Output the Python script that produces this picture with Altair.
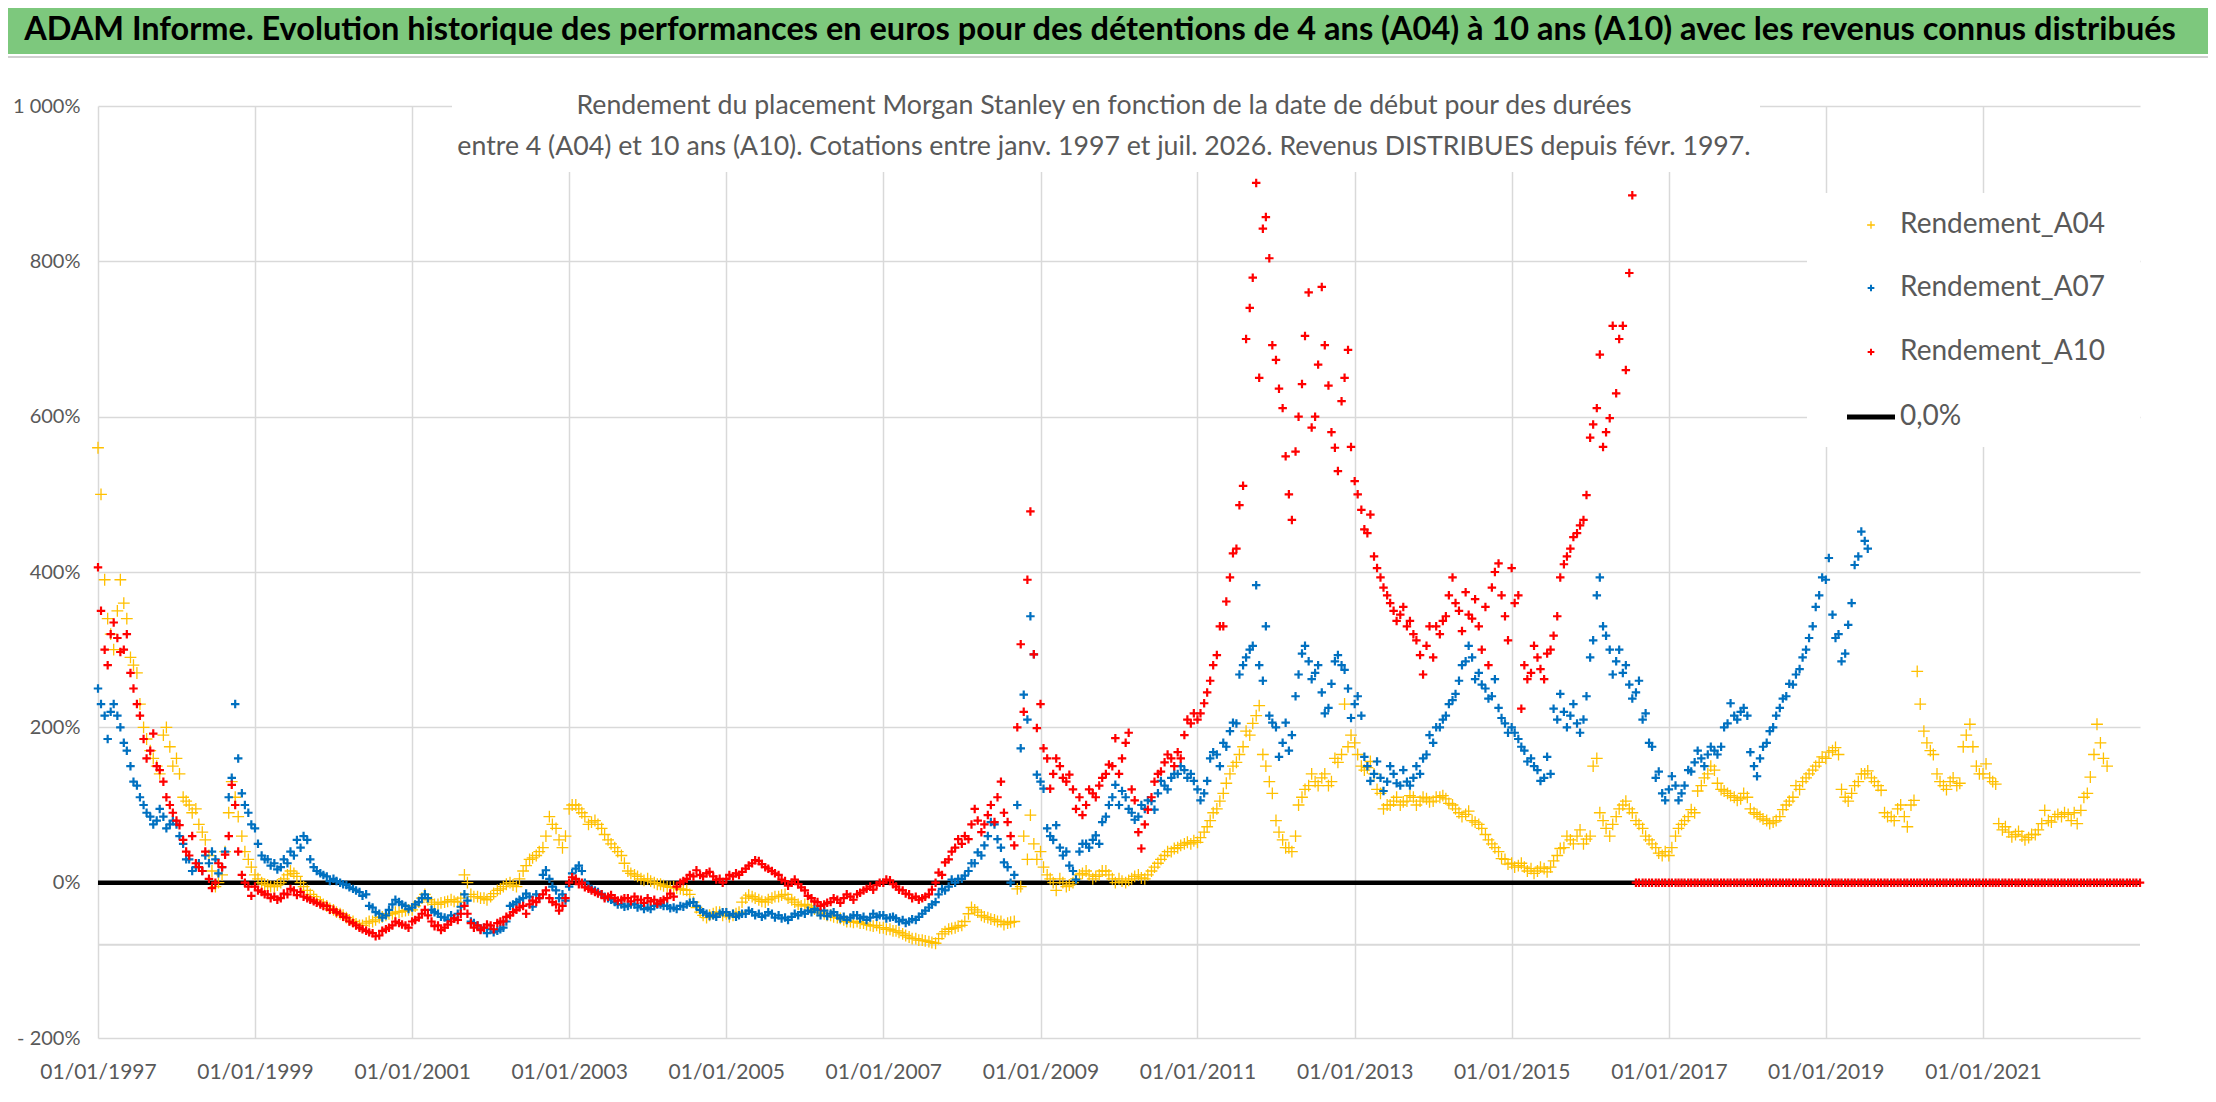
import pandas as pd
import altair as alt

FONT = "Lato"
GREY_TEXT = "#595959"
GRID = "#D9D9D9"
YELLOW = "#FFC000"
BLUE = "#0070C0"
RED = "#FF0000"

TITLE = ("ADAM Informe. Evolution historique des performances en euros pour des "
         "détentions de 4 ans (A04) à 10 ans (A10) avec les revenus connus distribués")
SUBTITLE = [
    "Rendement du placement Morgan Stanley en fonction de la date de début pour des durées",
    "entre 4 (A04) et 10 ans (A10). Cotations entre janv. 1997 et juil. 2026. Revenus DISTRIBUES depuis févr. 1997.",
]
LEGEND_LABELS = ["Rendement_A04", "Rendement_A07", "Rendement_A10", "0,0%"]

# readings in %, one row per year starting January 1997:
# *_FIRST = value on the 1st of each month, *_MID = value on the 15th
START = "1997-01-01"

A04_FIRST = [
    560, 390, 320, 350, 360, 290, 270, 200, 170, 150, 190, 175,   # 1997
    160, 110, 100, 95, 65, 35, -5, 10, 90, 110, 60, 30,           # 1998
    10, 0, -3, -5, 0, 10, 12, 0, -10, -18, -25, -30,              # 1999
    -35, -40, -45, -50, -55, -52, -50, -45, -42, -40, -38, -36,   # 2000
    -35, -25, -15, -25, -28, -25, -22, -25, 10, -15, -18, -20,    # 2001
    -18, -10, -5, 0, -5, 15, 30, 35, 45, 85, 70, 45,              # 2002
    95, 100, 90, 75, 80, 70, 55, 45, 35, 15, 10, 5,               # 2003
    5, 0, -2, -5, -5, -8, -10, -25, -38, -45, -40, -38,           # 2004
    -40, -42, -38, -20, -18, -22, -25, -20, -18, -15, -22, -28,   # 2005
    -28, -32, -36, -40, -42, -45, -48, -50, -50, -52, -55, -55,   # 2006
    -58, -60, -62, -66, -70, -72, -74, -76, -78, -66, -60, -58,   # 2007
    -55, -40, -35, -42, -45, -48, -50, -52, -50, -5, 30, 50,      # 2008
    40, 10, 0, 5, -5, 0, 10, 15, 5, 10, 15, 5,                    # 2009
    5, 0, 5, 10, 5, 15, 25, 35, 40, 45, 50, 50,                   # 2010
    52, 65, 80, 95, 115, 140, 155, 175, 190, 215, 165, 130,       # 2011
    80, 55, 45, 60, 110, 125, 130, 135, 125, 160, 165, 175,       # 2012
    180, 150, 148, 140, 115, 100, 105, 100, 105, 110, 105, 108,   # 2013
    105, 110, 108, 100, 90, 88, 80, 75, 62, 50, 40, 30,           # 2014
    25, 22, 20, 18, 15, 18, 20, 35, 45, 55, 60, 50,               # 2015
    60, 160, 80, 60, 85, 100, 95, 80, 70, 55, 45, 35,             # 2016
    35, 60, 75, 85, 90, 125, 140, 145, 120, 115, 110, 108,        # 2017
    110, 90, 85, 80, 78, 85, 100, 110, 120, 135, 145, 155,        # 2018
    160, 170, 165, 110, 115, 130, 140, 135, 125, 90, 85, 95,      # 2019
    85, 100, 272, 195, 170, 140, 125, 130, 125, 175, 204, 150,    # 2020
    140, 135, 127, 68, 65, 62, 60, 58, 62, 76, 80, 85,            # 2021
    85, 88, 90, 93, 115, 165, 180, 150,                           # 2022
]
A04_MID = [
    500, 340, 300, 390, 340, 280, 230, 185, 160, 140, 200, 150,   # 1997
    140, 105, 90, 75, 55, 15, 0, 40, 130, 85, 40, 20,             # 1998
    5, -2, -5, -3, 5, 15, 8, -5, -15, -22, -28, -33,              # 1999
    -38, -42, -48, -53, -55, -50, -48, -44, -40, -38, -37, -35,   # 2000
    -30, -20, -22, -28, -26, -24, -24, -20, 0, -18, -20, -22,     # 2001
    -14, -8, -2, -3, 5, 22, 32, 40, 60, 75, 55, 60,               # 2002
    100, 95, 85, 78, 75, 62, 50, 40, 25, 12, 8, 3,                # 2003
    2, -2, -4, -6, -7, -9, -15, -32, -42, -42, -38, -42,          # 2004
    -44, -40, -25, -16, -20, -24, -22, -18, -16, -20, -25, -30,   # 2005
    -30, -34, -38, -42, -44, -46, -50, -51, -52, -54, -56, -58,   # 2006
    -60, -62, -64, -68, -72, -74, -75, -77, -72, -63, -59, -56,   # 2007
    -50, -32, -38, -44, -47, -50, -54, -51, -8, 60, 87, 30,       # 2008
    20, 5, -10, 0, -3, 5, 12, 10, 8, 15, 10, 0,                   # 2009
    2, 3, 8, 6, 10, 20, 30, 40, 44, 48, 52, 54,                   # 2010
    58, 72, 90, 105, 128, 150, 165, 195, 205, 228, 150, 115,      # 2011
    65, 45, 40, 100, 120, 140, 125, 140, 130, 155, 230, 190,      # 2012
    165, 145, 156, 120, 95, 100, 110, 104, 112, 100, 110, 104,    # 2013
    110, 112, 102, 95, 85, 92, 78, 70, 55, 45, 31, 24,            # 2014
    20, 25, 15, 12, 20, 14, 28, 44, 60, 50, 68, 56,               # 2015
    150, 90, 70, 75, 95, 105, 90, 75, 60, 50, 38, 40,             # 2016
    45, 70, 80, 94, 118, 135, 150, 128, 118, 112, 106, 115,       # 2017
    95, 88, 82, 76, 80, 94, 105, 125, 130, 140, 150, 162,         # 2018
    168, 174, 120, 105, 125, 140, 144, 130, 119, 85, 80, 100,     # 2019
    72, 106, 230, 180, 165, 130, 120, 135, 128, 190, 175, 140,    # 2020
    153, 130, 76, 72, 59, 66, 55, 62, 68, 93, 78, 88,             # 2021
    90, 80, 76, 110, 136, 204, 160,                               # 2022
]

A07_FIRST = [
    250, 215, 220, 215, 180, 150, 125, 100, 85, 80, 85, 75,       # 1997
    75, 50, 30, 20, 15, 25, 30, 20, 110, 230, 115, 90,            # 1998
    70, 35, 30, 25, 20, 25, 35, 45, 55, 20, 12, 8,                # 1999
    5, 0, -3, -8, -12, -15, -32, -40, -42, -28, -25, -30,         # 2000
    -32, -25, -15, -35, -40, -45, -42, -40, -15, -50, -55, -58,   # 2001
    -60, -62, -58, -30, -25, -20, -18, -15, 10, 5, -10, -15,      # 2002
    -5, 18, 15, -5, -10, -15, -20, -25, -28, -30, -28, -30,       # 2003
    -32, -30, -28, -30, -32, -30, -28, -25, -35, -40, -42, -40,   # 2004
    -38, -40, -42, -40, -38, -40, -42, -40, -42, -45, -44, -42,   # 2005
    -40, -38, -35, -36, -40, -42, -44, -45, -42, -44, -45, -44,   # 2006
    -42, -45, -46, -48, -50, -48, -40, -32, -25, -8, -5, 0,       # 2007
    5, 15, 25, 35, 60, 75, 45, 20, 10, 173, 210, 294,             # 2008
    130, 70, 55, 45, 40, 15, 40, 50, 55, 50, 85, 110,             # 2009
    100, 110, 90, 85, 95, 105, 115, 125, 135, 140, 145, 140,      # 2010
    120, 115, 160, 165, 180, 195, 205, 280, 300, 383, 260, 215,   # 2011
    200, 180, 170, 240, 295, 285, 270, 245, 225, 285, 280, 250,   # 2012
    230, 215, 150, 140, 135, 130, 140, 125, 130, 135, 140, 165,   # 2013
    180, 200, 215, 235, 260, 285, 290, 270, 250, 240, 225, 205,   # 2014
    200, 185, 170, 160, 145, 135, 140, 210, 220, 215, 205, 210,   # 2015
    290, 370, 330, 300, 285, 270, 255, 245, 210, 180, 135, 115,   # 2016
    120, 125, 115, 145, 155, 160, 165, 170, 175, 205, 215, 220,   # 2017
    215, 150, 160, 180, 200, 225, 240, 255, 275, 300, 330, 370,   # 2018
    390, 345, 320, 295, 360, 420, 440,                            # 2019
]
A07_MID = [
    230, 185, 230, 200, 170, 130, 110, 90, 75, 95, 70, 80,        # 1997
    60, 30, 15, 25, 35, 40, 12, 40, 135, 160, 100, 75,            # 1998
    50, 30, 22, 17, 30, 40, 55, 60, 30, 15, 10, 2,                # 1999
    2, -2, -6, -10, -17, -30, -38, -45, -35, -22, -28, -34,       # 2000
    -28, -20, -20, -38, -44, -48, -46, -31, -23, -52, -60, -65,   # 2001
    -64, -60, -50, -28, -22, -14, -31, -20, 16, -5, -20, -23,     # 2002
    12, 22, 0, -8, -12, -18, -22, -28, -31, -28, -32, -34,        # 2003
    -34, -28, -30, -33, -34, -31, -26, -30, -38, -43, -44, -38,   # 2004
    -42, -44, -40, -36, -42, -44, -38, -45, -46, -48, -40, -38,   # 2005
    -36, -34, -42, -43, -38, -46, -48, -42, -46, -48, -40, -42,   # 2006
    -46, -44, -50, -52, -47, -44, -36, -28, -15, -10, 4, 5,       # 2007
    9, 25, 39, 48, 78, 56, 26, 0, 100, 242, 343, 139,             # 2008
    121, 60, 74, 35, 22, 4, 50, 45, 61, 78, 100, 126,             # 2009
    118, 95, 81, 100, 106, 94, 131, 120, 140, 150, 135, 131,      # 2010
    106, 131, 168, 150, 175, 206, 268, 290, 305, 280, 330, 206,   # 2011
    162, 206, 190, 268, 305, 262, 280, 218, 256, 293, 274, 212,   # 2012
    240, 162, 131, 156, 118, 150, 128, 145, 125, 150, 160, 190,   # 2013
    200, 210, 230, 243, 280, 305, 262, 255, 237, 262, 212, 193,   # 2014
    193, 175, 156, 150, 131, 162, 224, 243, 200, 230, 193, 240,   # 2015
    312, 393, 318, 268, 300, 280, 237, 260, 218, 175, 143, 106,   # 2016
    137, 106, 125, 143, 170, 150, 175, 165, 200, 231, 210, 225,   # 2017
    168, 137, 175, 195, 215, 237, 256, 268, 290, 315, 355, 393,   # 2018
    418, 315, 285, 332, 409, 452, 430,                            # 2019
]

A10_FIRST = [
    406, 300, 320, 315, 300, 270, 230, 185, 170, 150, 130, 100,   # 1997
    80, 55, 35, 25, 15, 5, 0, 20, 60, 100, 10, -5,                # 1998
    -5, -12, -15, -18, -20, -15, -10, -12, -20, -24, -28, -30,    # 1999
    -35, -40, -45, -52, -58, -62, -65, -68, -60, -55, -52, -55,   # 2000
    -50, -45, -35, -50, -55, -58, -50, -48, -30, -52, -55, -58,   # 2001
    -55, -52, -50, -42, -35, -30, -28, -25, -15, -20, -28, -30,   # 2002
    0, 5, 0, -8, -12, -15, -18, -20, -22, -20, -18, -22,          # 2003
    -20, -22, -24, -20, -18, 0, 5, 8, 10, 12, 8, 5,               # 2004
    5, 8, 10, 18, 25, 28, 20, 15, 10, 2, 0, -2,                   # 2005
    -10, -20, -25, -28, -25, -22, -20, -18, -15, -10, -5, -3,     # 2006
    0, 3, -5, -10, -15, -18, -20, -15, 0, 10, 30, 45,             # 2007
    50, 56, 95, 65, 87, 78, 130, 78, 48, 307, 390, 294,           # 2008
    230, 160, 140, 150, 130, 120, 110, 100, 115, 125, 140, 150,   # 2009
    140, 180, 120, 65, 75, 110, 140, 155, 160, 168, 190, 205,     # 2010
    210, 231, 260, 293, 330, 393, 430, 511, 740, 901, 842, 804,   # 2011
    673, 611, 500, 555, 642, 760, 600, 767, 640, 560, 620, 686,   # 2012
    517, 480, 450, 420, 393, 370, 350, 345, 330, 320, 293, 305,   # 2013
    290, 320, 343, 393, 350, 374, 340, 330, 355, 380, 411, 343,   # 2014
    405, 370, 280, 270, 290, 262, 300, 343, 410, 430, 450, 467,   # 2015
    573, 611, 561, 598, 630, 717, 785, 0, 0, 0, 0, 0,             # 2016
    0, 0, 0, 0, 0, 0, 0, 0, 0, 0, 0, 0,                           # 2017
    0, 0, 0, 0, 0, 0, 0, 0, 0, 0, 0, 0,                           # 2018
    0, 0, 0, 0, 0, 0, 0, 0, 0, 0, 0, 0,                           # 2019
    0, 0, 0, 0, 0, 0, 0, 0, 0, 0, 0, 0,                           # 2020
    0, 0, 0, 0, 0, 0, 0, 0, 0, 0, 0, 0,                           # 2021
    0, 0, 0, 0, 0, 0, 0, 0, 0, 0, 0, 0,                           # 2022
    0,                                                            # 2023
]
A10_MID = [
    350, 280, 335, 297, 320, 250, 215, 160, 192, 145, 110, 90,    # 1997
    74, 40, 60, 20, 40, -7, 25, 36, 126, 40, 0, -17,              # 1998
    -10, -15, -20, -22, -14, -8, -16, -18, -22, -26, -30, -35,    # 1999
    -38, -44, -50, -55, -60, -64, -69, -62, -58, -50, -54, -58,   # 2000
    -48, -40, -42, -56, -61, -54, -46, -40, -40, -58, -61, -54,   # 2001
    -60, -50, -44, -38, -32, -40, -23, -20, -10, -25, -36, -20,   # 2002
    7, -2, -6, -10, -14, -20, -16, -23, -20, -24, -22, -26,       # 2003
    -24, -27, -22, -14, -5, 2, 10, 16, 8, 14, 4, 0,               # 2004
    10, 12, 14, 22, 29, 24, 18, 12, 4, -4, 4, -6,                 # 2005
    -17, -24, -30, -26, -20, -26, -15, -22, -13, -8, -9, 0,       # 2006
    4, -2, -9, -14, -20, -22, -18, -9, 13, 26, 40, 56,            # 2007
    60, 75, 80, 75, 100, 110, 90, 60, 200, 220, 478, 199,         # 2008
    173, 121, 160, 135, 139, 95, 87, 120, 110, 135, 152, 186,     # 2009
    160, 193, 106, 44, 94, 130, 143, 165, 150, 160, 210, 218,     # 2010
    218, 245, 280, 330, 362, 424, 486, 700, 779, 650, 857, 692,   # 2011
    636, 549, 467, 600, 704, 586, 667, 692, 580, 530, 650, 561,   # 2012
    500, 455, 474, 405, 380, 360, 337, 355, 337, 312, 268, 330,   # 2013
    330, 337, 370, 360, 324, 345, 365, 300, 280, 400, 370, 312,   # 2014
    360, 224, 262, 305, 275, 295, 318, 393, 420, 445, 460, 499,   # 2015
    590, 680, 580, 717, 700, 660, 885, 0, 0, 0, 0, 0,             # 2016
    0, 0, 0, 0, 0, 0, 0, 0, 0, 0, 0, 0,                           # 2017
    0, 0, 0, 0, 0, 0, 0, 0, 0, 0, 0, 0,                           # 2018
    0, 0, 0, 0, 0, 0, 0, 0, 0, 0, 0, 0,                           # 2019
    0, 0, 0, 0, 0, 0, 0, 0, 0, 0, 0, 0,                           # 2020
    0, 0, 0, 0, 0, 0, 0, 0, 0, 0, 0, 0,                           # 2021
    0, 0, 0, 0, 0, 0, 0, 0, 0, 0, 0, 0,                           # 2022
]

YEAR_TICKS = [1997, 1999, 2001, 2003, 2005, 2007, 2009, 2011, 2013, 2015, 2017, 2019, 2021]
Y_TICKS = [-200, 0, 200, 400, 600, 800, 1000]

W, H = 2042, 932
PLUS = "M-1,0L1,0M0,-1L0,1"
ONE = pd.DataFrame({"k": [0]})


def frame(first, mid):
    d1 = pd.date_range(START, periods=len(first), freq="MS")
    d2 = pd.date_range(START, periods=len(mid), freq="MS") + pd.Timedelta(days=14)
    dates = list(d1.strftime("%Y-%m-%d")) + list(d2.strftime("%Y-%m-%d"))
    return pd.DataFrame({"date": dates, "value": first + mid})


def jan1(year):
    return alt.DateTime(year=year, month=1, date=1, utc=True)


x_enc = alt.X(
    "date:T",
    scale=alt.Scale(type="utc", domain=[jan1(1997), jan1(2023)]),
    axis=alt.Axis(values=[jan1(y) for y in YEAR_TICKS],
                  labelExpr="utcFormat(datum.value, '%d/%m/%Y')",
                  labelFontSize=21, labelPadding=23, labelOverlap=False, labelFlush=False,
                  grid=True, ticks=False, domain=False, title=None),
)
y_enc = alt.Y(
    "value:Q",
    scale=alt.Scale(domain=[-200, 1000], nice=False, zero=False),
    axis=alt.Axis(values=Y_TICKS, grid=True, ticks=False, domain=False, title=None,
                  labelFontSize=20, labelPadding=18,
                  labelExpr="datum.value == 1000 ? '1 000%' : (datum.value < 0 ? '- ' + abs(datum.value) + '%' : datum.value + '%')"),
)


def series(first, mid, color, size, width):
    return alt.Chart(frame(first, mid)).mark_point(
        shape=PLUS, filled=False, color=color, size=size, strokeWidth=width, opacity=1
    ).encode(x=x_enc, y=y_enc)


def box(x, x2, y, y2, fill):
    return alt.Chart(ONE).mark_rect(fill=fill).encode(
        x=alt.value(x), x2=alt.value(x2), y=alt.value(y), y2=alt.value(y2))


def label(text, x, y, size, color, align="center", weight="normal"):
    return alt.Chart(ONE).mark_text(
        text=text, font=FONT, fontSize=size, color=color, align=align,
        baseline="middle", fontWeight=weight
    ).encode(x=alt.value(x), y=alt.value(y))


zero_line = alt.Chart(ONE).mark_rule(color="black", strokeWidth=4.5).encode(
    x=alt.value(0), x2=alt.value(W), y=alt.datum(0))
cross_line = alt.Chart(ONE).mark_rule(color=GRID, strokeWidth=2).encode(
    x=alt.value(0), x2=alt.value(W), y=alt.datum(-80))

# banner and subtitle, above / on top of the plot area
banner = box(-90, 2110, -98, -52, "#7DC87D")
banner_rule = alt.Chart(ONE).mark_rule(color="#D0D0D0", strokeWidth=2).encode(
    x=alt.value(-90), x2=alt.value(2110), y=alt.value(-49))
title = label(TITLE, 1002, -76, 32.5, "black", weight="bold")
sub_box = box(354, 1662, -21, 66, "white")
sub1 = label(SUBTITLE[0], 1006, 0, 26.7, GREY_TEXT)
sub2 = label(SUBTITLE[1], 1006, 41, 26.7, GREY_TEXT)

# legend drawn by hand
leg_box = box(1709, 2042, 87, 341, "white")
leg_rows = [119, 182, 246, 311]
leg_marks = [
    alt.Chart(ONE).mark_point(shape=PLUS, filled=False, color=c, size=s, strokeWidth=w, opacity=1)
    .encode(x=alt.value(1773), y=alt.value(yy))
    for c, s, w, yy in [(YELLOW, 60, 1.3, leg_rows[0]), (BLUE, 45, 2, leg_rows[1]), (RED, 45, 2, leg_rows[2])]
]
leg_line = alt.Chart(ONE).mark_rule(color="black", strokeWidth=5).encode(
    x=alt.value(1749), x2=alt.value(1797), y=alt.value(leg_rows[3]))
leg_texts = [label(t, 1802, yy, 28, GREY_TEXT, align="left") for t, yy in zip(LEGEND_LABELS, leg_rows)]

chart = alt.layer(
    cross_line,
    sub_box,
    zero_line,
    series(A04_FIRST, A04_MID, YELLOW, 140, 1.3),
    series(A07_FIRST, A07_MID, BLUE, 72, 2.2),
    series(A10_FIRST, A10_MID, RED, 72, 2.2),
    leg_box,
    *leg_marks,
    leg_line,
    *leg_texts,
    banner,
    banner_rule,
    title,
    sub1,
    sub2,
).properties(
    width=W,
    height=H,
    padding={"left": 90, "top": 98, "right": 68, "bottom": 52},
    autosize=alt.AutoSizeParams(type="none"),
    background="white",
).configure_view(
    stroke=None
).configure_axis(
    labelFont=FONT,
    labelColor=GREY_TEXT,
    gridColor=GRID,
    gridWidth=1.5,
)

chart.save("out.html", embed_options={"renderer": "svg", "actions": False})
